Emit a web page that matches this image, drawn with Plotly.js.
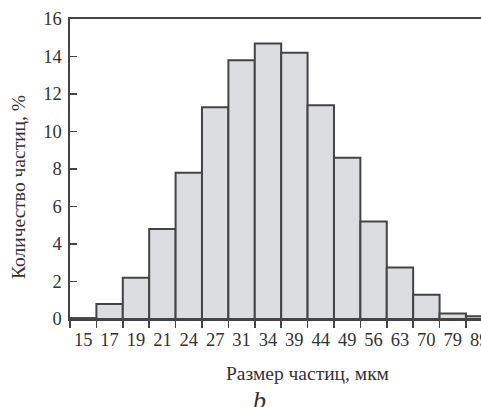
<!DOCTYPE html>
<html><head><meta charset="utf-8">
<script src="https://cdn.plot.ly/plotly-3.0.1.min.js"></script>
<style>html,body{margin:0;padding:0;background:#fff;}</style>
</head><body>
<div id="chart" style="width:481px;height:407px;"></div>
<script>
const categories = ["15","17","19","21","24","27","31","34","39","44","49","56","63","70","79","89"];
const percentValues = [0.05, 0.8, 2.2, 4.8, 7.8, 11.3, 13.8, 14.7, 14.2, 11.4, 8.6, 5.2, 2.75, 1.3, 0.3, 0.15];
const yTickVals = [0, 2, 4, 6, 8, 10, 12, 14, 16];
const xTitle = "Размер частиц, мкм";
const yTitle = "Количество частиц, %";
const panelLabel = "b";

const serif = "Liberation Serif";
const textColor = "#333333";

const trace = {
  type: "bar",
  x: categories,
  y: percentValues,
  width: 1,
  marker: {color: "#dcdde0", line: {color: "#444444", width: 2}},
  hoverinfo: "skip"
};

const layout = {
  width: 481, height: 407,
  margin: {l: 70, r: 0, t: 19, b: 88},
  paper_bgcolor: "#ffffff", plot_bgcolor: "#ffffff",
  showlegend: false,
  bargap: 0,
  font: {family: serif, size: 19, color: textColor},
  xaxis: {
    type: "category",
    range: [-0.5, 15.07],
    tickson: "boundaries",
    ticks: "outside", ticklen: 7, tickwidth: 1.5, tickcolor: "#444444",
    showline: true, linecolor: "#444444", linewidth: 2, mirror: true,
    showgrid: false, zeroline: false,
    ticklabelstandoff: 3,
    tickfont: {family: serif, size: 18.5, color: textColor},
    tickangle: 0
  },
  yaxis: {
    range: [0, 16],
    tickvals: yTickVals,
    ticks: "inside", ticklen: 7, tickwidth: 1.5, tickcolor: "#444444",
    showline: true, linecolor: "#444444", linewidth: 2.5,
    showgrid: false, zeroline: false,
    ticklabelstandoff: 2,
    tickfont: {family: serif, size: 18.5, color: textColor}
  },
  annotations: [
    {text: xTitle, xref: "paper", yref: "paper", x: 0.579, y: -0.18, xanchor: "center", yanchor: "middle",
     showarrow: false, font: {family: serif, size: 19.5, color: textColor}},
    {text: yTitle, xref: "paper", yref: "paper", x: -0.1265, y: 0.44, xanchor: "center", yanchor: "middle",
     textangle: -90, showarrow: false, font: {family: serif, size: 19.5, color: textColor}},
    {text: "<i>" + panelLabel + "</i>", xref: "paper", yref: "paper", x: 0.462, y: -0.27, xanchor: "center", yanchor: "middle",
     showarrow: false, font: {family: serif, size: 26, color: textColor}}
  ]
};

Plotly.newPlot("chart", [trace], layout, {displayModeBar: false, staticPlot: true});
</script>
</body></html>
